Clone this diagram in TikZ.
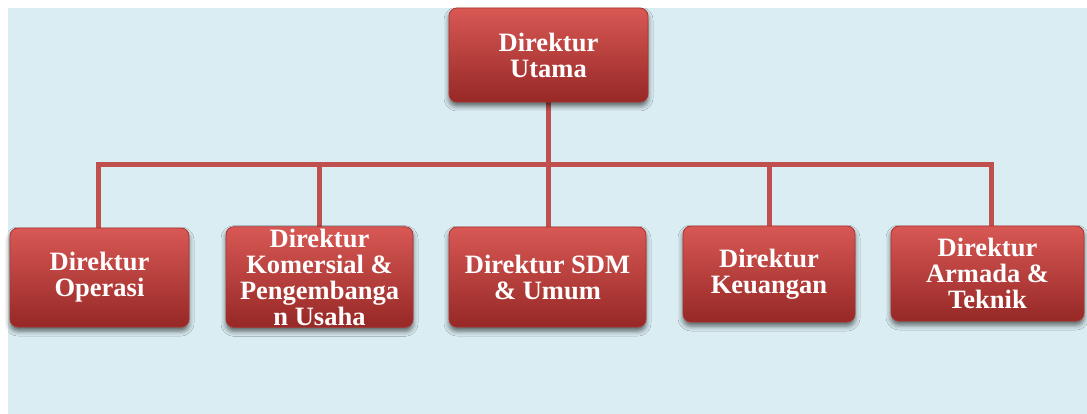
\documentclass[tikz,border=0pt]{standalone}
\usepackage{fontspec}
\setmainfont{Liberation Serif}
\usetikzlibrary{shadows.blur}
\definecolor{bgblue}{RGB}{218,237,243}
\definecolor{linered}{RGB}{192,80,77}
\definecolor{boxtop}{RGB}{216,88,84}
\definecolor{boxmid}{RGB}{188,60,57}
\definecolor{boxbot}{RGB}{150,40,38}
\definecolor{boxedge}{RGB}{170,50,48}
\tikzset{
  orgbox/.style={rectangle, rounded corners=8pt, draw=boxedge, line width=0.8pt,
    top color=boxtop, middle color=boxmid, bottom color=boxbot,
    text=white, font=\bfseries\fontsize{26.5}{26}\selectfont, align=center,
    inner sep=2pt,
    blur shadow={shadow xshift=0pt, shadow yshift=-4pt, shadow blur radius=5pt, shadow opacity=60}},
  conn/.style={draw=linered, line width=5pt}
}
\begin{document}
\begin{tikzpicture}[x=1pt,y=-1pt]
\useasboundingbox (0,0) rectangle (1087,414);
\fill[bgblue] (8,8) rectangle (1087,414);
% anchor points at box centres / tops
\coordinate (ctop) at (548.5,55);
\coordinate (c1) at (98,228);
\coordinate (c2) at (319.5,228);
\coordinate (c3) at (548.5,228);
\coordinate (c4) at (769,228);
\coordinate (c5) at (991,228);
\coordinate (bus) at (548.5,164.5);
\draw[conn] (ctop) -- (c3);
\draw[conn] (c1) |- (bus) -| (c5);
\draw[conn] (c2) -- (c2 |- bus);
\draw[conn] (c4) -- (c4 |- bus);
\node[orgbox, minimum width=199pt, minimum height=94pt] (top) at (ctop) {Direktur\\Utama};
\node[orgbox, minimum width=179pt, minimum height=99pt] (b1) at (99.5,277.5) {Direktur\\Operasi};
\node[orgbox, minimum width=187pt, minimum height=100pt] (b2) at (319.5,277) {Direktur\\Komersial \&\\Pengembanga\\n Usaha};
\node[orgbox, minimum width=197pt, minimum height=100pt] (b3) at (547.5,277) {Direktur SDM\\\& Umum};
\node[orgbox, minimum width=172pt, minimum height=96pt] (b4) at (769,274) {Direktur\\Keuangan};
\node[orgbox, minimum width=193pt, minimum height=95pt] (b5) at (987.5,273.5) {Direktur\\Armada \&\\Teknik};
\end{tikzpicture}
\end{document}
